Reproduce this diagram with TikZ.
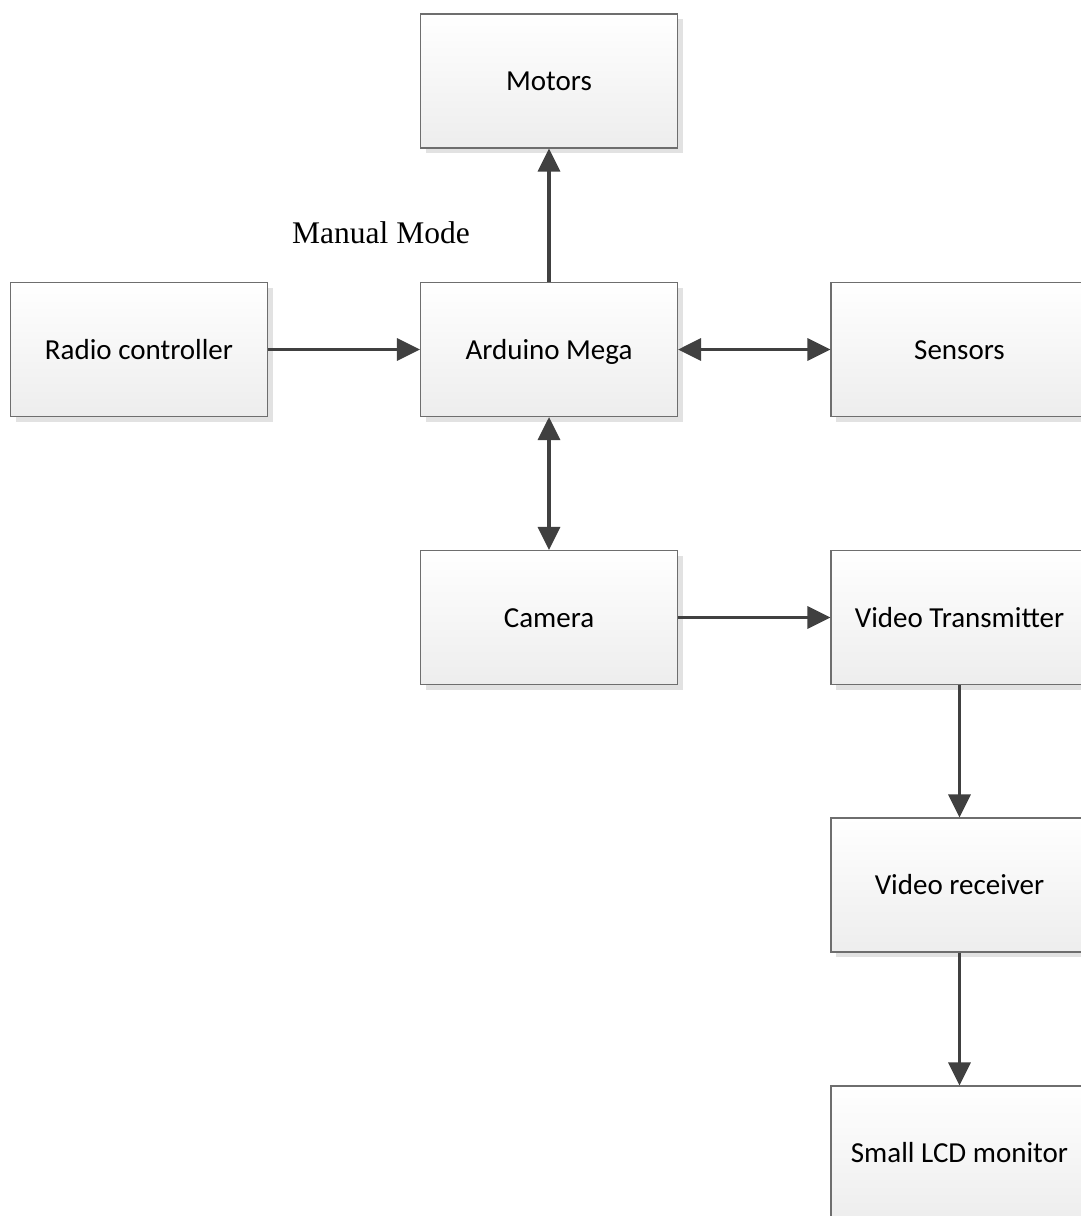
\documentclass[tikz,border=0pt]{standalone}
\usepackage{fontspec}
\setmainfont{Liberation Serif}
\newfontfamily\blockfont{Carlito}
\usetikzlibrary{arrows.meta,shadows}
\definecolor{edgegray}{HTML}{6E6E6E}
\definecolor{linkgray}{HTML}{404040}
\definecolor{shadegray}{HTML}{E2E2E2}
\begin{document}
\begin{tikzpicture}[x=1pt,y=-1pt,
  block/.style={draw=edgegray,line width=1.2pt,minimum width=257pt,minimum height=134pt,
    top color=white,bottom color=black!7,inner sep=0pt,
    text height=23pt,text depth=4pt,
    font=\blockfont\fontsize{29}{34}\selectfont,
    drop shadow={fill=shadegray,opacity=1,shadow xshift=5pt,shadow yshift=-5pt}},
  link/.style={draw=linkgray,line width=3.2pt,-{Triangle[length=23pt,width=22pt]}},
  duplex/.style={link,{Triangle[length=23pt,width=22pt]}-{Triangle[length=23pt,width=22pt]}}]
\clip (0,0) rectangle (1081,1216);
\useasboundingbox (0,0) rectangle (1081,1216);
\fill[white] (0,0) rectangle (1081,1216);

% blocks
\node[block] (motors)  at (549,81)    {Motors};
\node[block] (radio)   at (139,349.5) {Radio controller};
\node[block] (arduino) at (549,349.5) {Arduino Mega};
\node[block] (sensors) at (959.5,349.5) {Sensors};
\node[block] (camera)  at (549,617.5) {Camera};
\node[block] (vtx)     at (959.5,617.5) {Video Transmitter};
\node[block] (vrx)     at (959.5,885) {Video receiver};
\node[block] (lcd)     at (959.5,1153) {Small LCD monitor};

% label
\node[font=\fontsize{31.5}{36}\selectfont] (mode) at (381,233) {Manual Mode};

% connections
\draw[link] (arduino.north) -- (motors.south);
\draw[link] (radio.east) -- (arduino.west);
\draw[duplex] (arduino.east) -- (sensors.west);
\draw[duplex] (arduino.south) -- (camera.north);
\draw[link] (camera.east) -- (vtx.west);
\draw[link] (vtx.south) -- (vrx.north);
\draw[link] (vrx.south) -- (lcd.north);
\end{tikzpicture}
\end{document}
